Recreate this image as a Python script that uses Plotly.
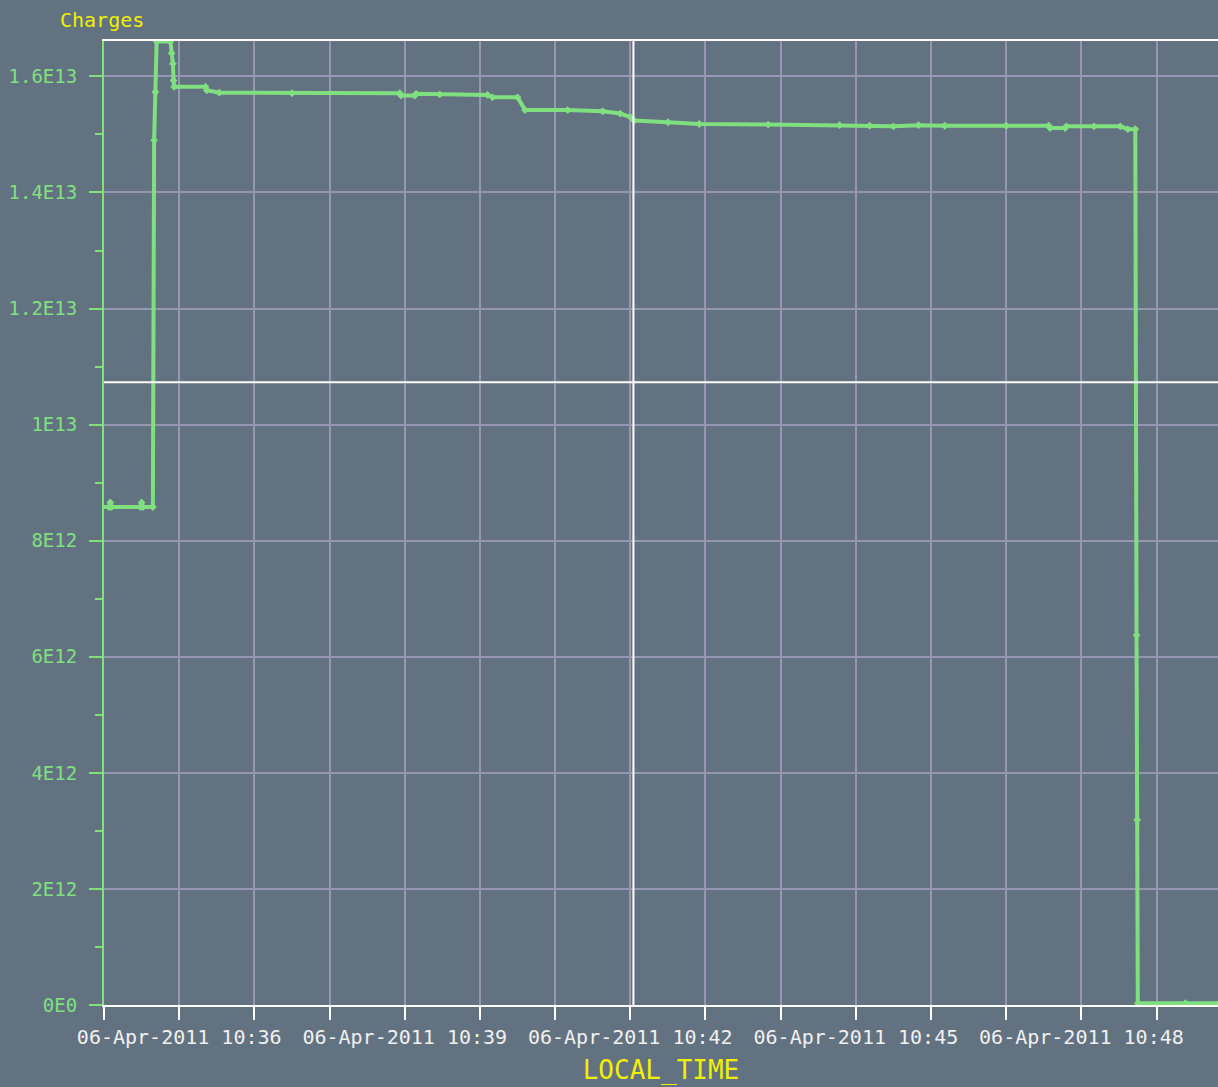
import plotly.graph_objects as go

# beam charge samples (local time, charges)
times = [
    "2011-04-06 10:34:56", "2011-04-06 10:35:04", "2011-04-06 10:35:05",
    "2011-04-06 10:35:06", "2011-04-06 10:35:29", "2011-04-06 10:35:30",
    "2011-04-06 10:35:31", "2011-04-06 10:35:39", "2011-04-06 10:35:40",
    "2011-04-06 10:35:41", "2011-04-06 10:35:42", "2011-04-06 10:35:53",
    "2011-04-06 10:35:54", "2011-04-06 10:35:55", "2011-04-06 10:35:55.5",
    "2011-04-06 10:35:56", "2011-04-06 10:36:21", "2011-04-06 10:36:22",
    "2011-04-06 10:36:32", "2011-04-06 10:37:30", "2011-04-06 10:38:56",
    "2011-04-06 10:38:57", "2011-04-06 10:39:08", "2011-04-06 10:39:09",
    "2011-04-06 10:39:28", "2011-04-06 10:40:06", "2011-04-06 10:40:10",
    "2011-04-06 10:40:30", "2011-04-06 10:40:36", "2011-04-06 10:41:10",
    "2011-04-06 10:41:38", "2011-04-06 10:41:52", "2011-04-06 10:42:00",
    "2011-04-06 10:42:03", "2011-04-06 10:42:30", "2011-04-06 10:42:55",
    "2011-04-06 10:43:50", "2011-04-06 10:44:47", "2011-04-06 10:45:11",
    "2011-04-06 10:45:30", "2011-04-06 10:45:50", "2011-04-06 10:46:11",
    "2011-04-06 10:47:00", "2011-04-06 10:47:34", "2011-04-06 10:47:35",
    "2011-04-06 10:47:47", "2011-04-06 10:47:48", "2011-04-06 10:48:10",
    "2011-04-06 10:48:31", "2011-04-06 10:48:37", "2011-04-06 10:48:43",
    "2011-04-06 10:48:44", "2011-04-06 10:48:44.5", "2011-04-06 10:48:45",
    "2011-04-06 10:49:23", "2011-04-06 10:49:50",
]
charges = [
    8.58e12, 8.58e12, 8.66e12,
    8.58e12, 8.58e12, 8.66e12,
    8.58e12, 8.58e12, 14.90e12,
    15.73e12, 16.60e12, 16.60e12,
    16.40e12, 16.22e12, 15.93e12,
    15.82e12, 15.82e12, 15.76e12,
    15.72e12, 15.71e12, 15.71e12,
    15.67e12, 15.67e12, 15.70e12,
    15.69e12, 15.68e12, 15.64e12,
    15.64e12, 15.42e12, 15.42e12,
    15.40e12, 15.36e12, 15.30e12,
    15.24e12, 15.21e12, 15.18e12,
    15.17e12, 15.16e12, 15.15e12,
    15.14e12, 15.16e12, 15.15e12,
    15.15e12, 15.15e12, 15.11e12,
    15.11e12, 15.14e12, 15.14e12,
    15.14e12, 15.09e12, 15.09e12,
    6.37e12, 3.19e12, 0.03e12,
    0.03e12, 0.03e12,
]

y_tickvals = [0, 2e12, 4e12, 6e12, 8e12, 1e13, 1.2e13, 1.4e13, 1.6e13]
y_ticktext = ["0E0", "2E12", "4E12", "6E12", "8E12", "1E13", "1.2E13", "1.4E13", "1.6E13"]

x_range = ["2011-04-06 10:35:00", "2011-04-06 10:49:49"]
y_range = [0, 1.661e13]

# crosshair cursor position
cursor_time = "2011-04-06 10:42:02.5"
cursor_value = 1.073e13

BG = "rgb(99,114,128)"
GREEN = "#80e080"
GRID = "rgb(150,150,178)"
MONO = "DejaVu Sans Mono"

fig = go.Figure()

fig.add_trace(go.Scatter(
    x=times,
    y=charges,
    mode="lines+markers",
    line=dict(color=GREEN, width=4),
    marker=dict(symbol="diamond", size=6, color=GREEN),
    name="Charges",
))

# cursor lines
fig.add_shape(type="line", xref="x", yref="paper", x0=cursor_time, x1=cursor_time,
              y0=0, y1=1, line=dict(color="white", width=2))
fig.add_shape(type="line", xref="paper", yref="y", x0=0, x1=1,
              y0=cursor_value, y1=cursor_value, line=dict(color="white", width=2))

fig.update_layout(
    width=1218,
    height=1087,
    margin=dict(l=104, r=0, t=41, b=82),
    paper_bgcolor=BG,
    plot_bgcolor=BG,
    showlegend=False,
    title=dict(text="Charges", font=dict(family=MONO, size=20, color="#f0f000"),
               xref="container", yref="container", x=60 / 1218, xanchor="left",
               y=1 - 20 / 1087, yanchor="middle"),
)

fig.update_xaxes(
    type="date",
    range=x_range,
    tick0="2011-04-06 10:36:00",
    dtick=180000,
    tickformat="%d-%b-%Y %H:%M",
    tickfont=dict(family=MONO, size=20, color="#f0f0f0"),
    ticks="outside",
    ticklen=13,
    tickwidth=2,
    tickcolor="white",
    showgrid=True,
    gridcolor=GRID,
    gridwidth=1.5,
    minor=dict(dtick=60000, tick0="2011-04-06 10:36:00", ticks="outside", ticklen=13,
               tickwidth=2, tickcolor="white", showgrid=True, gridcolor=GRID, gridwidth=1.5),
    showline=True,
    linecolor="white",
    linewidth=2,
    mirror=True,
    zeroline=False,
    title=dict(text="LOCAL_TIME", font=dict(family=MONO, size=26, color="#f0f000"), standoff=13),
)

fig.update_yaxes(
    range=y_range,
    tickmode="array",
    tickvals=y_tickvals,
    ticktext=y_ticktext,
    tickfont=dict(family=MONO, size=19, color=GREEN),
    ticks="outside",
    ticklen=13,
    tickwidth=2,
    tickcolor=GREEN,
    ticklabelstandoff=8,
    minor=dict(tickmode="linear", tick0=0, dtick=1e12, ticks="outside", ticklen=7,
               tickwidth=2, tickcolor=GREEN, showgrid=False),
    showgrid=True,
    gridcolor=GRID,
    gridwidth=1.5,
    showline=True,
    linecolor=GREEN,
    linewidth=2,
    zeroline=False,
)

# drop the default page margin so the figure sits flush in the window
fig.write_html(
    "out.html",
    config={"displayModeBar": False},
    post_script="document.body.style.margin='0';document.body.style.overflow='hidden';"
                "Plotly.relayout(document.getElementById('{plot_id}'),{width:1218,height:1087});",
)
